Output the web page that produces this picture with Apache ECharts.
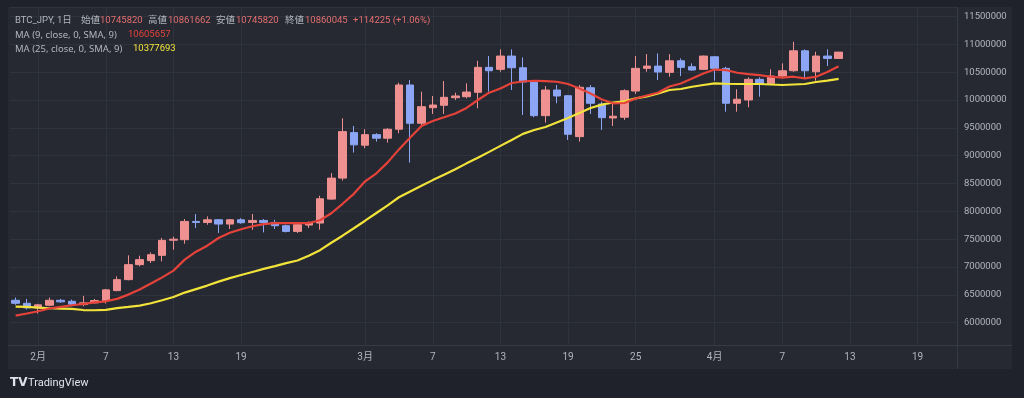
<!DOCTYPE html>
<html><head><meta charset="utf-8">
<script src="https://cdn.jsdelivr.net/npm/echarts@6/dist/echarts.min.js"></script>
<style>html,body{margin:0;padding:0;background:#1f222a;}#c{width:1024px;height:398px;}</style>
</head><body><div id="c"></div>
<script>
const categories = [
'2024-01-30','2024-01-31',
'2024-02-01','2024-02-02','2024-02-03','2024-02-04','2024-02-05','2024-02-06','2024-02-07','2024-02-08','2024-02-09','2024-02-10',
'2024-02-11','2024-02-12','2024-02-13','2024-02-14','2024-02-15','2024-02-16','2024-02-17','2024-02-18','2024-02-19','2024-02-20',
'2024-02-21','2024-02-22','2024-02-23','2024-02-24','2024-02-25','2024-02-26','2024-02-27','2024-02-28','2024-02-29',
'2024-03-01','2024-03-02','2024-03-03','2024-03-04','2024-03-05','2024-03-06','2024-03-07','2024-03-08','2024-03-09','2024-03-10',
'2024-03-11','2024-03-12','2024-03-13','2024-03-14','2024-03-15','2024-03-16','2024-03-17','2024-03-18','2024-03-19','2024-03-20',
'2024-03-21','2024-03-22','2024-03-23','2024-03-24','2024-03-25','2024-03-26','2024-03-27','2024-03-28','2024-03-29','2024-03-30','2024-03-31',
'2024-04-01','2024-04-02','2024-04-03','2024-04-04','2024-04-05','2024-04-06','2024-04-07','2024-04-08','2024-04-09','2024-04-10',
'2024-04-11','2024-04-12','2024-04-13','2024-04-14','2024-04-15','2024-04-16','2024-04-17','2024-04-18','2024-04-19','2024-04-20',
'2024-04-21','2024-04-22'
];
const opens = [
6403000,6349000,6267000,6314000,6403000,6385000,6326000,6357000,6393000,6577000,
6774000,7043000,7115000,7210000,7482000,7491000,7819000,7801000,7849000,7772000,
7849000,7801000,7837000,7801000,7742000,7640000,7754000,7790000,8220000,8597000,
9414000,9188000,9378000,9314000,9475000,10269000,9582000,9862000,9905000,10041000,
10059000,10138000,10586000,10550000,10789000,10579000,10317000,9719000,10179000,10077000,
9342000,10220000,9928000,9677000,9690000,10161000,10568000,10609000,10496000,10704000,
10597000,10550000,10776000,10568000,9941000,10000000,10371000,10299000,10430000,10525000,
10884000,10507000,10789000,10745820];
const highs = [
6452000,6428000,6339000,6452000,6428000,6416000,6482000,6428000,6608000,6833000,
7210000,7204000,7263000,7522000,7545000,7862000,7952000,7909000,7862000,7862000,
7876000,7952000,7862000,7849000,7760000,7772000,7819000,8280000,8686000,9672000,
9534000,9475000,9403000,9493000,10310000,10358000,10149000,10072000,10340000,10131000,
10299000,10704000,10789000,10909000,10909000,10765000,10346000,10251000,10269000,10090000,
10269000,10269000,9970000,9952000,10192000,10789000,10824000,10837000,10824000,10747000,
10658000,10797000,10789000,10597000,10192000,10407000,10407000,10550000,10658000,11045000,
10909000,10866000,10909000,10861662];
const lows = [
6321000,6237000,6165000,6296000,6357000,6296000,6296000,6344000,6344000,6565000,
6762000,7013000,7074000,7102000,7312000,7419000,7701000,7760000,7611000,7683000,
7778000,7670000,7622000,7683000,7622000,7611000,7701000,7670000,8208000,8554000,
9056000,9134000,9253000,9235000,9403000,8876000,9511000,9749000,9749000,10000000,
10030000,9851000,10149000,10507000,10179000,9731000,9690000,9593000,9941000,9283000,
9253000,9749000,9462000,9534000,9642000,10108000,10507000,10358000,10418000,10430000,
10525000,10538000,10346000,9790000,9790000,9869000,10059000,10269000,10407000,10507000,
10389000,10346000,10609000,10745820];
const closes = [
6349000,6267000,6321000,6403000,6375000,6332000,6357000,6398000,6590000,6774000,
7043000,7133000,7222000,7479000,7500000,7819000,7801000,7849000,7772000,7849000,
7796000,7837000,7801000,7742000,7640000,7760000,7790000,8226000,8597000,9432000,
9194000,9378000,9314000,9475000,10269000,9582000,9880000,9910000,10048000,10072000,
10143000,10586000,10525000,10789000,10579000,10323000,9719000,10179000,10072000,9385000,
10228000,9941000,9683000,9708000,10167000,10568000,10609000,10502000,10704000,10586000,
10538000,10789000,10568000,9941000,10013000,10371000,10287000,10430000,10525000,10884000,
10525000,10789000,10745820,10860045];
const ma9 = [
6129000,6165000,6206000,6255000,6285000,6314000,6339000,6367000,6385000,6428000,
6505000,6595000,6703000,6815000,6936000,7133000,7276000,7384000,7522000,7617000,
7679000,7733000,7772000,7787000,7790000,7787000,7790000,7841000,7966000,8136000,
8315000,8539000,8683000,8880000,9113000,9328000,9534000,9624000,9690000,9758000,
9857000,10000000,10131000,10206000,10305000,10332000,10346000,10340000,10328000,10287000,
10206000,10116000,10009000,9941000,9946000,10027000,10081000,10134000,10242000,10296000,
10385000,10475000,10547000,10538000,10489000,10466000,10448000,10418000,10400000,10418000,
10389000,10418000,10502000,10605657];
const ma25 = [
6290000,6285000,6272000,6260000,6255000,6249000,6228000,6224000,6231000,6263000,
6285000,6308000,6349000,6403000,6461000,6541000,6604000,6667000,6738000,6801000,
6858000,6912000,6966000,7016000,7070000,7118000,7204000,7303000,7437000,7563000,
7697000,7832000,7970000,8109000,8253000,8358000,8459000,8561000,8656000,8758000,
8862000,8961000,9068000,9176000,9283000,9391000,9462000,9516000,9597000,9677000,
9767000,9857000,9916000,9955000,9977000,10030000,10066000,10116000,10179000,10197000,
10238000,10269000,10299000,10292000,10287000,10287000,10287000,10278000,10269000,10278000,
10287000,10323000,10349000,10377693];
const tickDates = ['2024-02-01','2024-02-07','2024-02-13','2024-02-19','2024-03-01','2024-03-07','2024-03-13','2024-03-19','2024-03-25','2024-04-01','2024-04-07','2024-04-13','2024-04-19'];
const tickLabels = ['2月','7','13','19','3月','7','13','19','25','4月','7','13','19'];

const tickMap = {};
tickDates.forEach((d, i) => { tickMap[d] = tickLabels[i]; });
const candleData = opens.map((o, i) => [o, closes[i], lows[i], highs[i]]);
const isTick = (idx, val) => tickMap[val] !== undefined;

const FONT = 'Roboto, "Noto Sans CJK JP", sans-serif';
const LFONT = '"Noto Sans", "Noto Sans CJK JP", sans-serif';
const GRAY = '#b2b5be';
const UP = '#ef9191';
const DOWN = '#8ca6f5';

const chart = echarts.init(document.getElementById('c'), null, {renderer: 'canvas'});
function txt(x, y, s, color, fam) {
  return {type: 'text', x: x, y: y, z: 10, silent: true,
    style: {text: s, fill: color, font: '9.5px ' + (fam || FONT), textVerticalAlign: 'middle'}};
}
chart.setOption({
  backgroundColor: '#1f222a',
  animation: false,
  grid: {left: 10, top: 7, width: 947, height: 338},
  xAxis: {
    type: 'category', data: categories, boundaryGap: true,
    axisLine: {show: false}, axisTick: {show: false},
    axisLabel: {interval: isTick, formatter: v => tickMap[v] || '', color: GRAY, fontSize: 10, fontFamily: FONT, margin: 7},
    splitLine: {show: true, interval: isTick, alignWithLabel: true, lineStyle: {color: '#2f333d', width: 1}}
  },
  yAxis: {
    type: 'value', position: 'right', min: 5600000, max: 11670000,
    splitNumber: 12, minInterval: 500000, maxInterval: 500000,
    axisLine: {show: false}, axisTick: {show: false},
    axisLabel: {color: GRAY, fontSize: 9.5, fontFamily: FONT, margin: 7, showMinLabel: false, showMaxLabel: false,
      formatter: v => String(Math.round(v))},
    splitLine: {show: true, lineStyle: {color: '#2f333d', width: 1}}
  },
  series: [
    {type: 'candlestick', data: candleData, barWidth: 8,
      itemStyle: {color: UP, color0: DOWN, borderColor: UP, borderColor0: DOWN, borderWidth: 1}, z: 3},
    {type: 'line', data: ma25, showSymbol: false, symbol: 'none', smooth: false,
      lineStyle: {color: '#f2e33b', width: 2.2}, z: 4},
    {type: 'line', data: ma9, showSymbol: false, symbol: 'none', smooth: false,
      lineStyle: {color: '#e5423a', width: 2.2}, z: 5}
  ],
  graphic: [
    {type: 'rect', z: -10, silent: true, shape: {x: 8, y: 7, width: 1004, height: 362}, style: {fill: '#262932'}},
    {type: 'line', z: 1, silent: true, shape: {x1: 957.5, y1: 7, x2: 957.5, y2: 369}, style: {stroke: '#363a45', lineWidth: 1}},
    {type: 'line', z: 1, silent: true, shape: {x1: 8, y1: 345.5, x2: 1012, y2: 345.5}, style: {stroke: '#363a45', lineWidth: 1}},
    txt(15, 21, 'BTC_JPY, 1日', GRAY),
    txt(81, 21, '始値', GRAY), txt(100, 21, '10745820', '#e46e6e'),
    txt(148, 21, '高値', GRAY), txt(168, 21, '10861662', '#e46e6e'),
    txt(216, 21, '安値', GRAY), txt(236, 21, '10745820', '#e46e6e'),
    txt(285, 21, '終値', GRAY), txt(305, 21, '10860045', '#e46e6e'),
    txt(353, 21, '+114225 (+1.06%)', '#e46e6e'),
    txt(15, 35, 'MA (9, close, 0, SMA, 9)', GRAY, LFONT), txt(128, 35, '10605657', '#e5423a'),
    txt(15, 49, 'MA (25, close, 0, SMA, 9)', GRAY, LFONT), txt(133, 49, '10377693', '#f2e33b'),
    {type: 'text', x: 10, y: 383, z: 10, silent: true, style: {text: 'TV', fill: '#e0e3eb', font: 'bold 12px "DejaVu Sans", sans-serif', textVerticalAlign: 'middle'}},
    {type: 'text', x: 28, y: 383, z: 10, silent: true, style: {text: 'TradingView', fill: '#e0e3eb', font: '11px "Liberation Sans Narrow", Roboto, sans-serif', textVerticalAlign: 'middle'}}
  ]
});
</script></body></html>
